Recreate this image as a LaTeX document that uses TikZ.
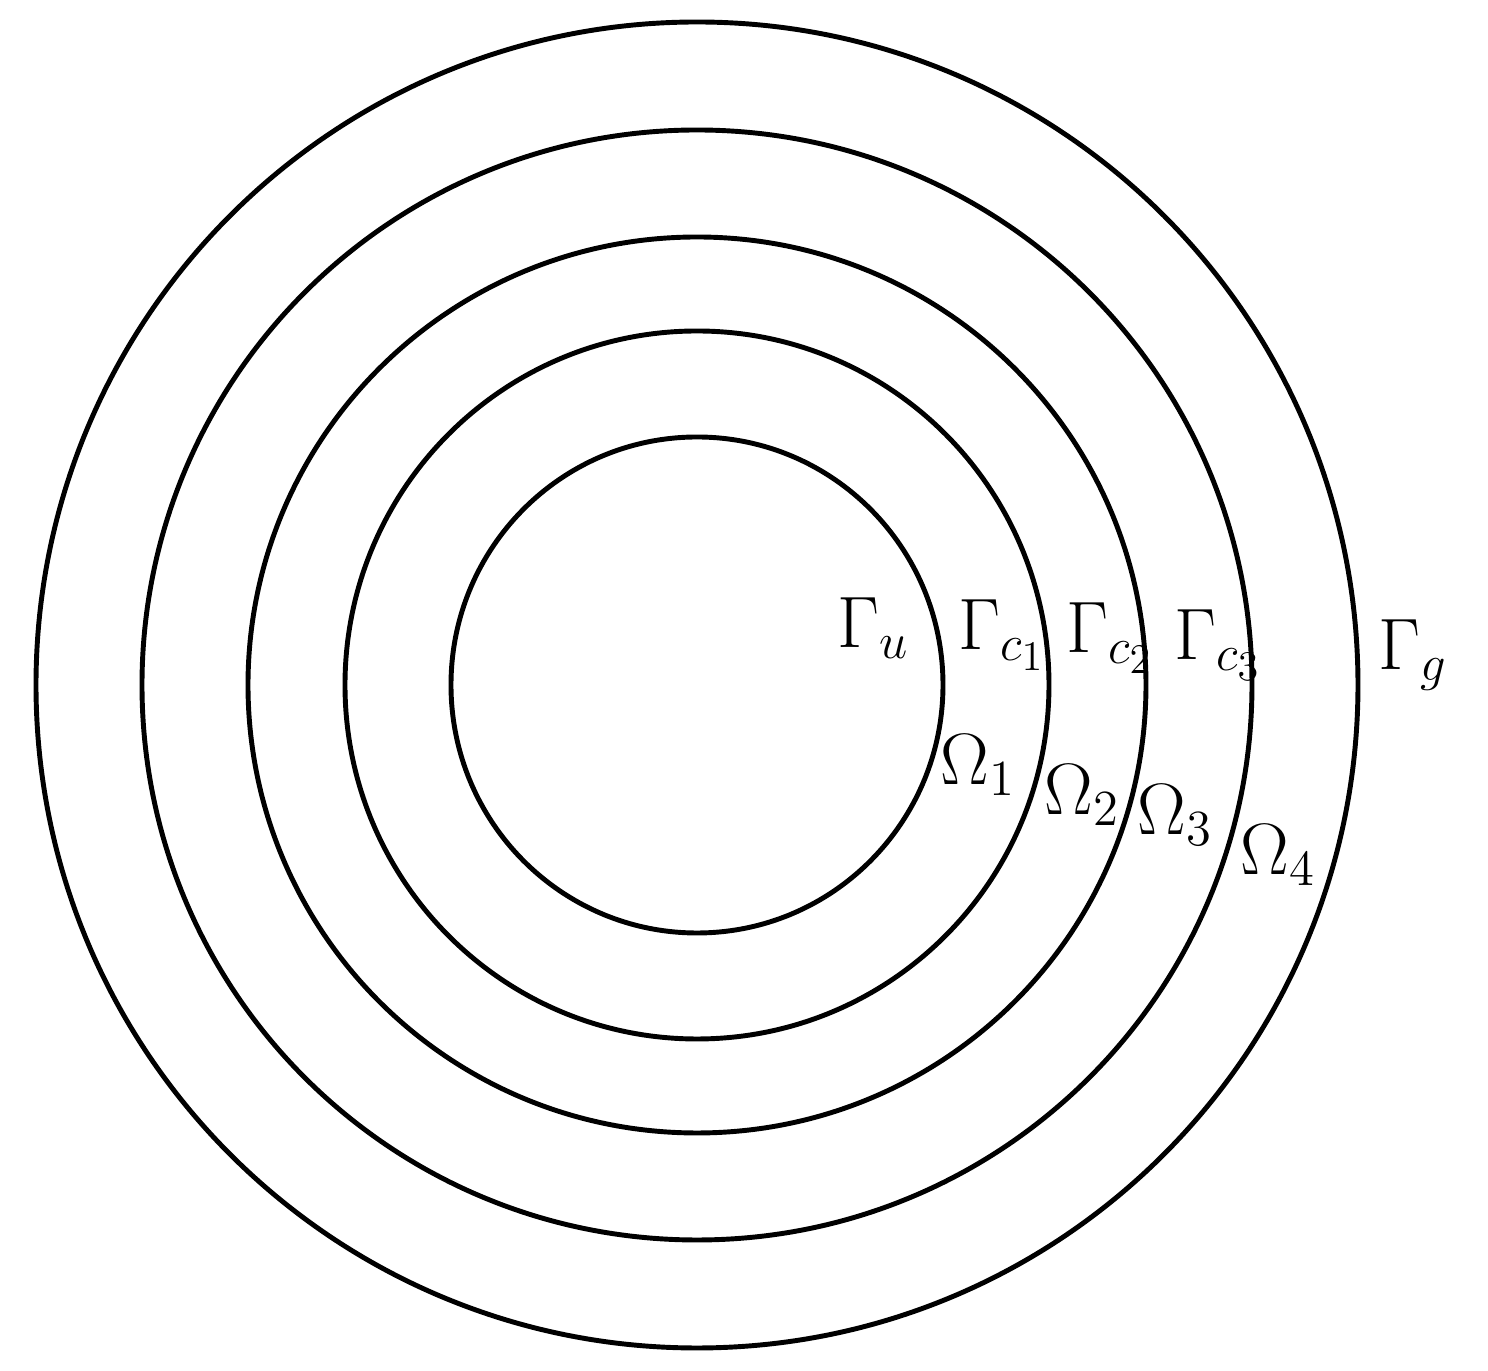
\documentclass[tikz,border=0pt]{standalone}
\usepackage{amsmath}
\usepackage{tikz}
\usetikzlibrary{positioning}

\begin{document}
\begin{tikzpicture}[x=1cm,y=1cm,
    ring/.style={line width=1.4pt},
    lab/.style={font=\huge, inner sep=0pt}]
\useasboundingbox (0,0) rectangle (14.88,13.71);
\coordinate (c) at (6.97,6.86);
% boundaries
\foreach \rx/\ry in {2.46/2.48, 3.52/3.54, 4.49/4.48, 5.55/5.55, 6.61/6.63} {
    \draw[ring] (c) ellipse [x radius=\rx, y radius=\ry];
}
% interface labels
\foreach \name/\x/\y [count=\i] in {
    u/8.73/7.43,
    {c_1}/10.02/7.36,
    {c_2}/11.10/7.33,
    {c_3}/12.18/7.26,
    g/14.13/7.16
} {
    \node[lab] (G\i) at (\x,\y) {$\Gamma_{\name}$};
}
% subdomain labels
\foreach \x/\y [count=\i] in {9.78/6.06, 10.82/5.76, 11.75/5.56, 12.78/5.16} {
    \node[lab] (O\i) at (\x,\y) {$\Omega_{\i}$};
}
\end{tikzpicture}
\end{document}
